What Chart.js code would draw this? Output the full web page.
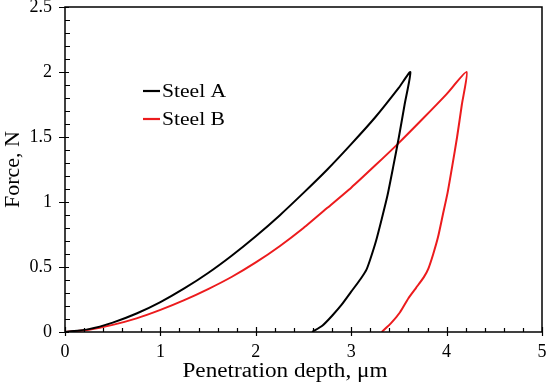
<!DOCTYPE html>
<html lang="en">
<head>
    <meta charset="UTF-8">
    <title>Force vs penetration depth</title>
    <script src="https://cdn.jsdelivr.net/npm/chart.js"></script>
    <style>
        html, body { margin: 0; padding: 0; background: #fff; }
        #wrap { width: 550px; height: 388px; }
    </style>
</head>
<body>
<div id="wrap"><canvas id="forceChart"></canvas></div>

<script>
// Steel A: loading then unloading (depth in um, force in N)
const steelA_depth = [0, 0.25, 0.5, 0.75, 1.0, 1.25, 1.5, 1.75, 2.0, 2.25, 2.5, 2.75, 3.0, 3.25, 3.5, 3.62,
                      3.56, 3.50, 3.44, 3.38, 3.32, 3.26, 3.20, 3.16, 3.10, 3.00, 2.90, 2.80, 2.70, 2.59];
const steelA_force = [0, 0.022, 0.072, 0.142, 0.23, 0.335, 0.454, 0.589, 0.737, 0.897, 1.07, 1.25, 1.445, 1.65, 1.88, 2.0,
                      1.75, 1.50, 1.27, 1.05, 0.87, 0.70, 0.56, 0.48, 0.41, 0.31, 0.21, 0.125, 0.05, 0];

// Steel B
const steelB_depth = [0, 0.25, 0.5, 0.75, 1.0, 1.25, 1.5, 1.75, 2.0, 2.25, 2.5, 2.75, 3.0, 3.25, 3.5, 3.75, 4.0, 4.21,
                      4.16, 4.11, 4.06, 4.01, 3.96, 3.91, 3.86, 3.81, 3.76, 3.68, 3.60, 3.51, 3.42, 3.32];
const steelB_force = [0, 0.018, 0.055, 0.105, 0.17, 0.245, 0.33, 0.425, 0.535, 0.66, 0.80, 0.955, 1.11, 1.28, 1.455, 1.64, 1.83, 2.0,
                      1.75, 1.50, 1.28, 1.07, 0.90, 0.73, 0.60, 0.49, 0.42, 0.34, 0.26, 0.15, 0.07, 0];

const seriesNames = ['Steel A', 'Steel B'];
const seriesColors = ['#000000', '#ec1b1d'];
const xTitle = 'Penetration depth, \u03bcm';
const yTitle = 'Force, N';

const SERIF = '"Liberation Serif", "Times New Roman", serif';

function toPoints(xs, ys) {
    return xs.map((x, i) => ({ x: x, y: ys[i] }));
}

// frame, inward minor ticks, axis titles and legend
const decorations = {
    id: 'decorations',
    afterDraw(chart) {
        const ctx = chart.ctx;
        const area = chart.chartArea;
        const xs = chart.scales.x;
        const ys = chart.scales.y;
        ctx.save();
        ctx.strokeStyle = '#000';
        ctx.lineWidth = 1.5;
        ctx.strokeRect(area.left, area.top, area.right - area.left, area.bottom - area.top);

        ctx.lineWidth = 1.2;
        ctx.beginPath();
        // x ticks
        for (let i = 0; i <= 50; i++) {
            const v = i / 10;
            const px = Math.round(xs.getPixelForValue(v)) + 0.5;
            if (i % 10 === 0) {
                ctx.moveTo(px, area.bottom - 5);
                ctx.lineTo(px, area.bottom + 4);
            } else if (i % 2 === 0) {
                ctx.moveTo(px, area.bottom);
                ctx.lineTo(px, area.bottom - 4);
            }
        }
        // y ticks
        for (let i = 0; i <= 25; i++) {
            const v = i / 10;
            const py = Math.round(ys.getPixelForValue(v)) + 0.5;
            if (i % 5 === 0) {
                ctx.moveTo(area.left - 6, py);
                ctx.lineTo(area.left + 4, py);
            } else {
                ctx.moveTo(area.left, py);
                ctx.lineTo(area.left + 5, py);
            }
        }
        ctx.stroke();

        // axis titles
        ctx.fillStyle = '#000';
        ctx.font = '20px ' + SERIF;
        ctx.textAlign = 'center';
        ctx.textBaseline = 'alphabetic';
        ctx.save();
        ctx.translate(285, 377);
        ctx.scale(1.16, 1);
        ctx.fillText(xTitle, 0, 0);
        ctx.restore();
        ctx.save();
        ctx.font = '22px ' + SERIF;
        ctx.translate(19, (area.top + area.bottom) / 2);
        ctx.rotate(-Math.PI / 2);
        ctx.fillText(yTitle, 0, 0);
        ctx.restore();

        // legend
        ctx.font = '18px ' + SERIF;
        ctx.textAlign = 'left';
        ctx.textBaseline = 'middle';
        const legendY = [91, 119];
        seriesNames.forEach((name, i) => {
            ctx.strokeStyle = seriesColors[i];
            ctx.lineWidth = 2.2;
            ctx.beginPath();
            ctx.moveTo(143, legendY[i]);
            ctx.lineTo(160, legendY[i]);
            ctx.stroke();
            ctx.fillStyle = '#000';
            ctx.save();
            ctx.translate(162, legendY[i] + 1);
            ctx.scale(1.2, 1);
            ctx.fillText(name, 0, 0);
            ctx.restore();
        });
        ctx.restore();
    }
};

const ctx = document.getElementById('forceChart').getContext('2d');
new Chart(ctx, {
    type: 'scatter',
    data: {
        datasets: [
            {
                label: seriesNames[0],
                data: toPoints(steelA_depth, steelA_force),
                showLine: true,
                borderColor: seriesColors[0],
                borderWidth: 2,
                pointRadius: 0,
                tension: 0.2
            },
            {
                label: seriesNames[1],
                data: toPoints(steelB_depth, steelB_force),
                showLine: true,
                borderColor: seriesColors[1],
                borderWidth: 2,
                pointRadius: 0,
                tension: 0.2
            }
        ]
    },
    options: {
        responsive: true,
        maintainAspectRatio: false,
        animation: false,
        layout: { padding: { left: 0, right: 8, top: 7, bottom: 0 } },
        plugins: {
            legend: { display: false },
            tooltip: { enabled: false }
        },
        scales: {
            x: {
                type: 'linear',
                min: 0,
                max: 5,
                grid: { display: false, drawTicks: false },
                border: { display: false },
                ticks: {
                    stepSize: 1,
                    padding: 9,
                    color: '#000',
                    font: { family: SERIF, size: 18 }
                },
                afterFit(scale) {
                    scale.height = 56;
                    scale.paddingLeft = 0;
                    scale.paddingRight = 0;
                }
            },
            y: {
                type: 'linear',
                min: 0,
                max: 2.5,
                grid: { display: false, drawTicks: false },
                border: { display: false },
                ticks: {
                    stepSize: 0.5,
                    padding: 13,
                    color: '#000',
                    font: { family: SERIF, size: 18 },
                    callback: value => String(value)
                },
                afterFit(scale) {
                    scale.width = 65;
                    scale.paddingTop = 0;
                    scale.paddingBottom = 0;
                }
            }
        }
    },
    plugins: [decorations]
});
</script>
</body>
</html>
